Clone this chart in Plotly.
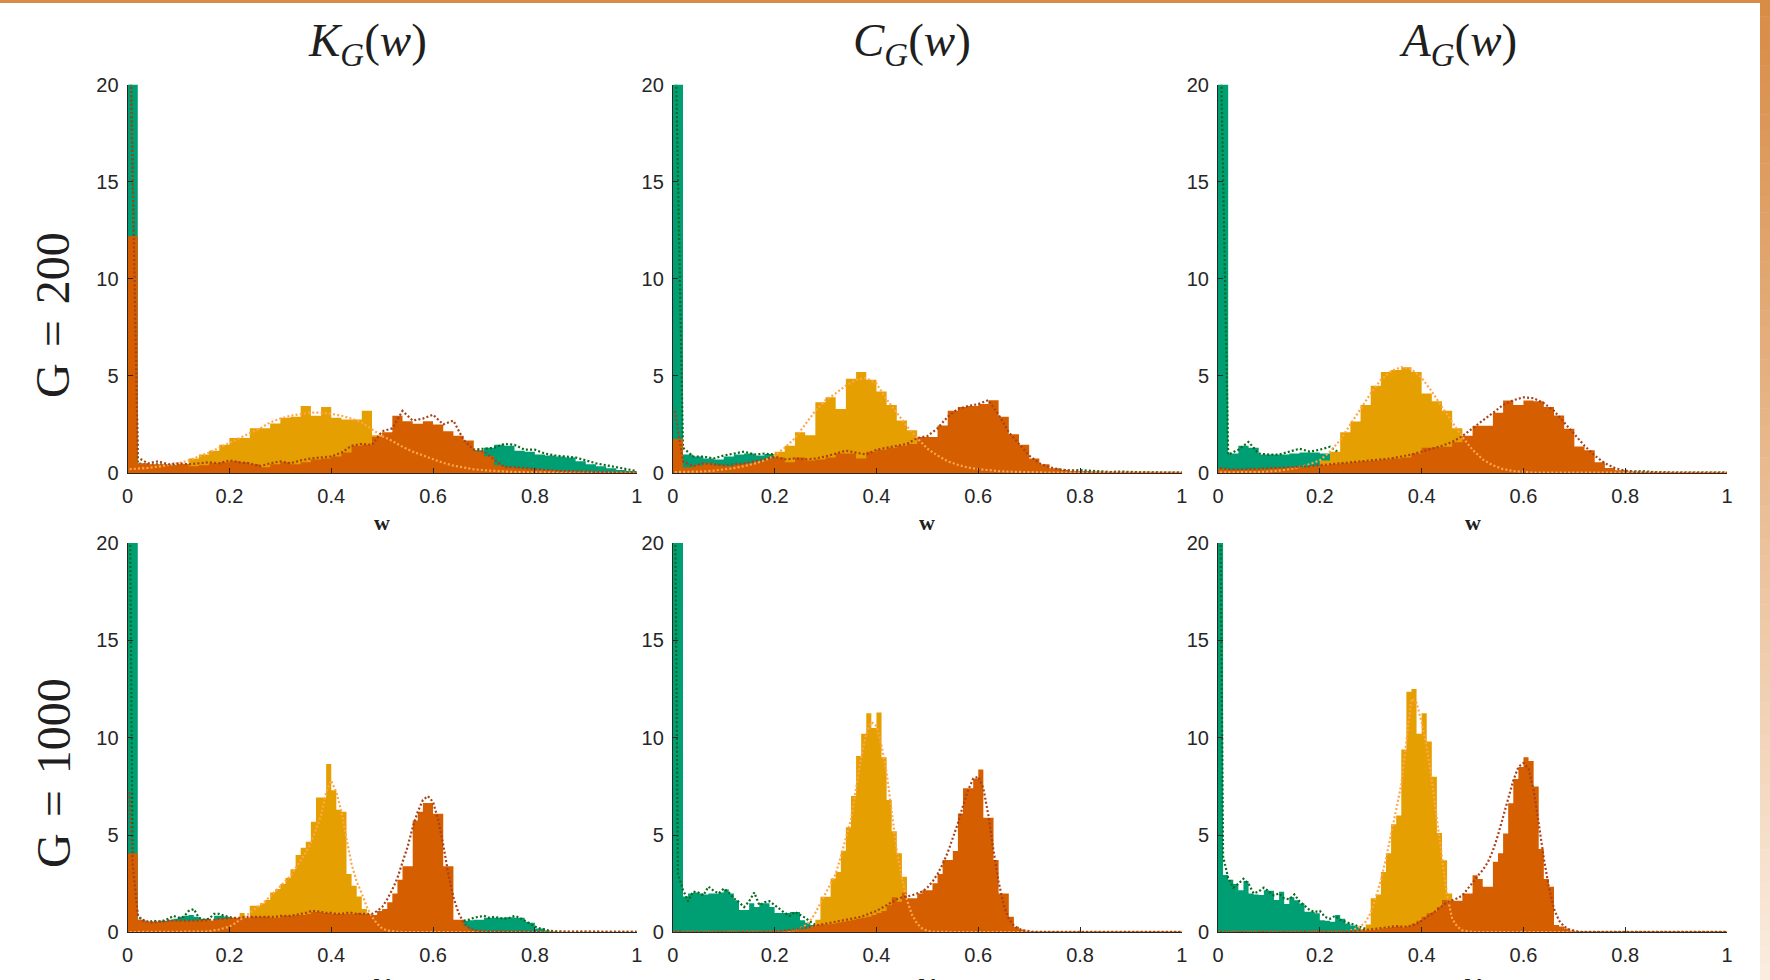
import plotly.graph_objects as go

W, H = 1770, 980

# ---------------- data ----------------
COL_TITLES = ["<i>K</i><sub><i>G</i></sub>(<i>w</i>)",
              "<i>C</i><sub><i>G</i></sub>(<i>w</i>)",
              "<i>A</i><sub><i>G</i></sub>(<i>w</i>)"]
ROW_TITLES = ["G\u2004=\u2004200", "G\u2004=\u20041000"]
X_TICKS = [0, 0.2, 0.4, 0.6, 0.8, 1]
Y_TICKS = [0, 5, 10, 15, 20]

BIN_TOP = 0.02   # histogram bin width, G = 200
BIN_BOT = 0.01   # histogram bin width, G = 1000
LINE_X_TOP = [0.004] + [round(BIN_TOP * k, 2) for k in range(1, 51)]
LINE_X_BOT = [0.004] + [round(BIN_BOT * k, 2) for k in range(1, 101)]

# ---- K, G=200 ----
TL_GREEN = [25, 0.45, 0.4, 0.4, 0.38, 0.4, 0.33, 0.38, 0.45, 0.5,
            0.55, 0.5, 0.42, 0.28, 0.42, 0.5, 0.42, 0.5, 0.65, 0.7,
            0.8, 0.9, 1.0, 1.0, 1.05, 1.05, 1.1, 1.1, 1.1, 1.1,
            1.1, 1.1, 1.1, 1.15, 1.17, 1.3, 1.45, 1.4, 1.15, 1.1,
            0.95, 0.9, 0.85, 0.8, 0.6, 0.45, 0.35, 0.25, 0.15, 0.1]
TL_YELLOW = [0.05, 0.05, 0.1, 0.15, 0.25, 0.48, 0.75, 0.95, 1.15, 1.45,
             1.8, 1.8, 2.3, 2.3, 2.55, 2.85, 2.9, 3.45, 2.95, 3.4,
             2.85, 2.75, 2.75, 3.2, 1.95, 1.6, 1.2, 1.0, 0.8, 0.6,
             0.45, 0.35, 0.25, 0.15, 0.1, 0.07, 0.05, 0.03, 0.02, 0.02,
             0.02, 0.02, 0.02, 0.02, 0.02, 0.02, 0.02, 0.02, 0.02, 0.02]
TL_ORANGE = [12.2, 0.5, 0.45, 0.45, 0.4, 0.45, 0.35, 0.4, 0.5, 0.55,
             0.6, 0.55, 0.45, 0.3, 0.45, 0.55, 0.45, 0.55, 0.7, 0.75,
             0.85, 1.05, 1.4, 1.46, 1.86, 2.1, 2.95, 2.66, 2.54, 2.66,
             2.5, 2.15, 1.92, 1.68, 1.12, 0.86, 0.4, 0.3, 0.25, 0.22,
             0.18, 0.15, 0.12, 0.1, 0.08, 0.06, 0.05, 0.04, 0.03, 0.03]
TL_GREEN_FIT = [24, 0.5, 0.42, 0.45, 0.4, 0.42, 0.38, 0.4, 0.45, 0.5,
                0.55, 0.52, 0.45, 0.35, 0.4, 0.5, 0.45, 0.5, 0.6, 0.7,
                0.75, 0.85, 0.95, 1.0, 1.05, 1.05, 1.1, 1.1, 1.1, 1.1,
                1.1, 1.1, 1.1, 1.1, 1.2, 1.25, 1.3, 1.5, 1.45, 1.2,
                1.2, 1.0, 0.9, 0.85, 0.8, 0.65, 0.5, 0.4, 0.3, 0.2,
                0.1]
TL_YELLOW_FIT = [0.2, 0.22, 0.26, 0.32, 0.4, 0.5, 0.65, 0.85, 1.05, 1.3,
                 1.55, 1.8, 2.05, 2.3, 2.6, 2.8, 2.95, 3.05, 3.12, 3.1,
                 3.05, 2.95, 2.8, 2.6, 2.25, 1.9, 1.65, 1.35, 1.1, 0.9,
                 0.7, 0.52, 0.38, 0.27, 0.19, 0.14, 0.1, 0.07, 0.05, 0.04,
                 0.03, 0.02, 0.02, 0.02, 0.02, 0.02, 0.02, 0.02, 0.02, 0.02,
                 0.02]
TL_ORANGE_FIT = [24, 0.8, 0.5, 0.6, 0.45, 0.5, 0.45, 0.5, 0.55, 0.5,
                 0.65, 0.55, 0.5, 0.35, 0.5, 0.6, 0.5, 0.65, 0.75, 0.8,
                 0.85, 1.05, 1.4, 1.5, 1.45, 2.15, 2.3, 3.2, 2.7, 2.8,
                 3.0, 2.5, 2.7, 1.7, 1.2, 1.1, 0.7, 0.3, 0.3, 0.25,
                 0.2, 0.15, 0.12, 0.1, 0.08, 0.06, 0.05, 0.04, 0.03, 0.03,
                 0.03]

# ---- C, G=200 ----
TM_GREEN = [25, 0.95, 0.85, 0.75, 0.7, 0.85, 0.95, 1.0, 0.9, 0.98,
            0.9, 0.8, 0.75, 0.7, 0.65, 0.6, 0.55, 0.5, 0.45, 0.4,
            0.35, 0.3, 0.3, 0.25, 0.25, 0.2, 0.2, 0.2, 0.15, 0.15,
            0.15, 0.12, 0.12, 0.12, 0.1, 0.1, 0.1, 0.1, 0.12, 0.1,
            0.1, 0.08, 0.05, 0.04, 0.04, 0.03, 0.03, 0.02, 0.02, 0.02]
TM_YELLOW = [0.05, 0.05, 0.05, 0.05, 0.1, 0.15, 0.2, 0.3, 0.45, 0.65,
             1.1, 1.4, 2.1, 1.95, 3.64, 3.9, 3.3, 4.85, 5.2, 4.8,
             4.2, 3.5, 2.7, 2.2, 1.6, 1.0, 0.6, 0.35, 0.2, 0.1,
             0.05, 0.02, 0.02, 0.02, 0.02, 0.02, 0.02, 0.02, 0.02, 0.02,
             0.02, 0.02, 0.02, 0.02, 0.02, 0.02, 0.02, 0.02, 0.02, 0.02]
TM_ORANGE = [1.75, 0.3, 0.4, 0.5, 0.4, 0.35, 0.45, 0.5, 0.6, 0.75,
             0.8, 0.55, 0.8, 0.65, 0.7, 0.8, 1.0, 1.0, 0.75, 1.1,
             1.2, 1.3, 1.4, 1.5, 1.85, 1.85, 2.45, 3.2, 3.4, 3.45,
             3.55, 3.75, 2.9, 2.0, 1.45, 0.75, 0.45, 0.25, 0.15, 0.1,
             0.06, 0.05, 0.04, 0.03, 0.02, 0.02, 0.02, 0.02, 0.02, 0.02]
TM_GREEN_FIT = [24, 1.3, 0.85, 0.85, 0.75, 0.9, 1.0, 1.1, 0.95, 1.0,
                0.95, 0.8, 0.75, 0.7, 0.65, 0.6, 0.55, 0.5, 0.45, 0.4,
                0.35, 0.3, 0.3, 0.25, 0.25, 0.2, 0.2, 0.2, 0.15, 0.15,
                0.15, 0.12, 0.12, 0.12, 0.12, 0.12, 0.12, 0.12, 0.18, 0.12,
                0.15, 0.12, 0.06, 0.05, 0.08, 0.04, 0.03, 0.03, 0.02, 0.02,
                0.02]
TM_YELLOW_FIT = [0.05, 0.05, 0.06, 0.08, 0.12, 0.17, 0.25, 0.35, 0.48, 0.65,
                 0.9, 1.3, 1.8, 2.5, 3.2, 3.75, 4.1, 4.5, 4.8, 4.9,
                 4.6, 3.8, 3.1, 2.4, 1.8, 1.25, 0.9, 0.6, 0.42, 0.28,
                 0.2, 0.14, 0.1, 0.07, 0.05, 0.04, 0.03, 0.02, 0.02, 0.02,
                 0.02, 0.02, 0.02, 0.02, 0.02, 0.02, 0.02, 0.02, 0.02, 0.02,
                 0.02]
TM_ORANGE_FIT = [3.2, 0.6, 0.35, 0.5, 0.45, 0.4, 0.45, 0.5, 0.6, 0.7,
                 0.85, 0.7, 0.75, 0.7, 0.75, 0.85, 1.0, 1.15, 1.05, 0.95,
                 1.2, 1.3, 1.4, 1.5, 1.8, 1.9, 2.3, 2.9, 3.3, 3.45,
                 3.55, 3.75, 3.0, 2.1, 1.5, 0.9, 0.5, 0.3, 0.18, 0.12,
                 0.08, 0.06, 0.05, 0.04, 0.03, 0.02, 0.02, 0.02, 0.02, 0.02,
                 0.02]

# ---- A, G=200 ----
TR_GREEN = [25, 1.0, 1.4, 1.3, 0.95, 0.95, 0.95, 1.0, 1.05, 1.05,
            1.0, 0.95, 0.7, 0.6, 0.5, 0.45, 0.4, 0.35, 0.3, 0.25,
            0.2, 0.2, 0.15, 0.15, 0.1, 0.1, 0.05, 0.05, 0.05, 0.05,
            0.05, 0.05, 0.05, 0.05, 0.05, 0.05, 0.05, 0.05, 0.05, 0.05,
            0.05, 0.05, 0.05, 0.02, 0.02, 0.02, 0.02, 0.02, 0.02, 0.02]
TR_YELLOW = [0.03, 0.03, 0.03, 0.03, 0.04, 0.05, 0.05, 0.1, 0.2, 0.35,
             0.65, 1.1, 2.1, 2.65, 3.5, 4.5, 5.2, 5.3, 5.45, 5.2,
             4.1, 3.7, 3.2, 2.3, 1.9, 1.3, 0.7, 0.3, 0.12, 0.05,
             0.02, 0.02, 0.02, 0.02, 0.02, 0.02, 0.02, 0.02, 0.02, 0.02,
             0.02, 0.02, 0.02, 0.02, 0.02, 0.02, 0.02, 0.02, 0.02, 0.02]
TR_ORANGE = [0.2, 0.15, 0.15, 0.2, 0.2, 0.25, 0.25, 0.3, 0.3, 0.35,
             0.4, 0.45, 0.5, 0.55, 0.6, 0.65, 0.7, 0.75, 0.8, 1.0,
             1.3, 1.32, 1.35, 1.58, 1.92, 2.44, 2.44, 3.1, 3.73, 3.5,
             3.73, 3.7, 3.4, 2.96, 2.28, 1.37, 1.17, 0.55, 0.26, 0.14,
             0.08, 0.06, 0.04, 0.02, 0.02, 0.02, 0.02, 0.02, 0.02, 0.02]
TR_GREEN_FIT = [24, 0.95, 1.2, 1.6, 1.0, 0.95, 0.95, 1.1, 1.25, 1.1,
                1.2, 1.35, 1.0, 0.7, 0.55, 0.45, 0.4, 0.35, 0.3, 0.25,
                0.2, 0.2, 0.15, 0.15, 0.12, 0.1, 0.08, 0.06, 0.06, 0.06,
                0.06, 0.06, 0.06, 0.06, 0.06, 0.06, 0.06, 0.06, 0.06, 0.06,
                0.06, 0.06, 0.08, 0.04, 0.02, 0.02, 0.02, 0.02, 0.02, 0.02,
                0.02]
TR_YELLOW_FIT = [0.03, 0.03, 0.03, 0.04, 0.05, 0.08, 0.12, 0.2, 0.3, 0.45,
                 0.65, 1.1, 1.7, 2.5, 3.3, 4.1, 4.8, 5.25, 5.45, 5.35,
                 4.9, 4.2, 3.4, 2.6, 1.85, 1.2, 0.7, 0.4, 0.2, 0.1,
                 0.05, 0.02, 0.02, 0.02, 0.02, 0.02, 0.02, 0.02, 0.02, 0.02,
                 0.02, 0.02, 0.02, 0.02, 0.02, 0.02, 0.02, 0.02, 0.02, 0.02,
                 0.02]
TR_ORANGE_FIT = [0.25, 0.2, 0.2, 0.2, 0.22, 0.25, 0.27, 0.3, 0.32, 0.35,
                 0.4, 0.45, 0.5, 0.55, 0.6, 0.65, 0.7, 0.75, 0.85, 0.95,
                 1.1, 1.25, 1.4, 1.6, 1.9, 2.3, 2.7, 3.1, 3.5, 3.75,
                 3.9, 3.85, 3.6, 3.2, 2.6, 2.0, 1.4, 0.9, 0.5, 0.25,
                 0.12, 0.06, 0.04, 0.03, 0.02, 0.02, 0.02, 0.02, 0.02, 0.02,
                 0.02]

# ---- K, G=1000 ----
BL_GREEN = [25, 25, 0.65, 0.6, 0.55, 0.55, 0.6, 0.6, 0.65, 0.7,
            0.8, 0.85, 0.9, 0.8, 0.7, 0.7, 0.6, 0.85, 0.85, 0.8,
            0.75, 0.7, 0.65, 0.65, 0.6, 0.6, 0.6, 0.55, 0.55, 0.5,
            0.5, 0.5, 0.5, 0.5, 0.5, 0.5, 0.5, 0.5, 0.5, 0.5,
            0.5, 0.5, 0.5, 0.5, 0.5, 0.5, 0.5, 0.5, 0.5, 0.5,
            0.5, 0.5, 0.5, 0.5, 0.5, 0.5, 0.5, 0.5, 0.5, 0.5,
            0.5, 0.5, 0.5, 0.5, 0.5, 0.55, 0.6, 0.63, 0.65, 0.65,
            0.75, 0.75, 0.75, 0.75, 0.78, 0.78, 0.75, 0.75, 0.55, 0.5,
            0.2, 0.2, 0.1, 0.05, 0.02, 0.02, 0.02, 0.02, 0.02, 0.02,
            0.02, 0.02, 0.02, 0.02, 0.02, 0.02, 0.02, 0.02, 0.02, 0.02]
BL_YELLOW = [0.1, 0.1, 0.02, 0.02, 0.02, 0.02, 0.02, 0.02, 0.02, 0.02,
             0.02, 0.02, 0.02, 0.02, 0.02, 0.05, 0.1, 0.15, 0.2, 0.3,
             0.45, 0.6, 1.0, 0.65, 1.37, 1.37, 1.5, 1.66, 2.05, 2.23,
             2.48, 2.8, 3.24, 3.97, 4.35, 4.66, 5.68, 6.93, 6.93, 8.65,
             7.3, 6.3, 6.2, 3.0, 2.4, 1.85, 1.2, 0.7, 0.4, 0.2,
             0.1, 0.05, 0.02, 0.02, 0.02, 0.02, 0.02, 0.02, 0.02, 0.02,
             0.02, 0.02, 0.02, 0.02, 0.02, 0.02, 0.02, 0.02, 0.02, 0.02,
             0.02, 0.02, 0.02, 0.02, 0.02, 0.02, 0.02, 0.02, 0.02, 0.02,
             0.02, 0.02, 0.02, 0.02, 0.02, 0.02, 0.02, 0.02, 0.02, 0.02,
             0.02, 0.02, 0.02, 0.02, 0.02, 0.02, 0.02, 0.02, 0.02, 0.02]
BL_ORANGE = [4.05, 4.05, 0.65, 0.6, 0.55, 0.55, 0.55, 0.55, 0.6, 0.6,
             0.6, 0.6, 0.6, 0.6, 0.65, 0.65, 0.6, 0.65, 0.7, 0.7,
             0.75, 0.75, 0.75, 0.75, 0.8, 0.8, 0.8, 0.8, 0.75, 0.75,
             0.85, 0.85, 0.85, 0.9, 0.9, 0.95, 1.05, 1.05, 1.0, 1.0,
             0.95, 0.95, 0.95, 0.95, 0.95, 1.0, 0.95, 0.95, 0.9, 1.1,
             1.2, 1.55, 2.0, 2.7, 3.4, 3.4, 5.75, 6.2, 6.65, 6.65,
             6.1, 6.1, 3.4, 3.4, 0.65, 0.65, 0.3, 0.15, 0.1, 0.08,
             0.05, 0.05, 0.05, 0.05, 0.05, 0.05, 0.05, 0.05, 0.05, 0.05,
             0.02, 0.02, 0.02, 0.02, 0.02, 0.02, 0.02, 0.02, 0.02, 0.02,
             0.02, 0.02, 0.02, 0.02, 0.02, 0.02, 0.02, 0.02, 0.02, 0.02]
BL_GREEN_FIT = [24,
                3.0, 0.8, 0.65, 0.5, 0.6, 0.55, 0.6, 0.7, 0.85, 0.75,
                0.8, 1.1, 1.2, 0.75, 0.65, 0.7, 0.95, 0.95, 0.85, 0.8,
                0.7, 0.6, 0.6, 0.6, 0.6, 0.6, 0.6, 0.6, 0.6, 0.6,
                0.6, 0.6, 0.6, 0.6, 0.6, 0.6, 0.6, 0.6, 0.6, 0.6,
                0.6, 0.6, 0.6, 0.6, 0.6, 0.6, 0.6, 0.6, 0.6, 0.6,
                0.6, 0.6, 0.6, 0.6, 0.6, 0.6, 0.6, 0.6, 0.6, 0.6,
                0.6, 0.6, 0.6, 0.5, 0.55, 0.6, 0.65, 0.75, 0.8, 0.85,
                0.75, 0.8, 0.75, 0.7, 0.75, 0.85, 0.75, 0.6, 0.45, 0.3,
                0.2, 0.12, 0.08, 0.05, 0.03, 0.03, 0.03, 0.03, 0.03, 0.03,
                0.03, 0.03, 0.03, 0.03, 0.03, 0.03, 0.03, 0.03, 0.03, 0.03]
BL_YELLOW_FIT = [0.02,
                 0.02, 0.02, 0.02, 0.02, 0.02, 0.02, 0.02, 0.02, 0.02, 0.02,
                 0.02, 0.02, 0.03, 0.03, 0.04, 0.06, 0.1, 0.15, 0.22, 0.3,
                 0.45, 0.62, 0.8, 1.0, 1.2, 1.4, 1.6, 1.85, 2.1, 2.35,
                 2.6, 2.9, 3.3, 3.7, 4.1, 4.6, 5.3, 6.0, 7.2, 7.8,
                 7.2, 6.2, 4.8, 3.5, 2.6, 2.0, 1.3, 0.8, 0.45, 0.2,
                 0.1, 0.05, 0.03, 0.02, 0.02, 0.02, 0.02, 0.02, 0.02, 0.02,
                 0.02, 0.02, 0.02, 0.02, 0.02, 0.02, 0.02, 0.02, 0.02, 0.02,
                 0.02, 0.02, 0.02, 0.02, 0.02, 0.02, 0.02, 0.02, 0.02, 0.02,
                 0.02, 0.02, 0.02, 0.02, 0.02, 0.02, 0.02, 0.02, 0.02, 0.02,
                 0.02, 0.02, 0.02, 0.02, 0.02, 0.02, 0.02, 0.02, 0.02, 0.02]
BL_ORANGE_FIT = [7.2,
                 3.5, 0.9, 0.6, 0.55, 0.5, 0.55, 0.55, 0.6, 0.6, 0.6,
                 0.6, 0.6, 0.6, 0.6, 0.6, 0.65, 0.65, 0.7, 0.7, 0.75,
                 0.75, 0.75, 0.8, 0.8, 0.8, 0.8, 0.8, 0.8, 0.8, 0.85,
                 0.85, 0.85, 0.9, 0.95, 1.0, 1.1, 1.1, 1.05, 1.0, 1.0,
                 0.95, 0.95, 1.0, 1.0, 0.95, 0.95, 0.95, 0.95, 1.1, 1.3,
                 1.7, 2.2, 2.8, 3.6, 4.4, 5.4, 6.2, 6.8, 7.0, 6.7,
                 5.8, 4.5, 3.0, 1.8, 1.0, 0.5, 0.25, 0.12, 0.08, 0.05,
                 0.05, 0.05, 0.05, 0.05, 0.05, 0.05, 0.05, 0.05, 0.05, 0.05,
                 0.03, 0.03, 0.03, 0.03, 0.03, 0.03, 0.03, 0.03, 0.03, 0.03,
                 0.03, 0.03, 0.03, 0.03, 0.03, 0.03, 0.03, 0.03, 0.03, 0.03]

# ---- C, G=1000 ----
BM_GREEN = [25, 25, 1.85, 2.0, 2.05, 2.0, 1.95, 2.0, 2.0, 2.05,
            2.2, 2.0, 1.65, 1.15, 1.15, 1.5, 1.3, 1.5, 1.5, 1.3,
            1.0, 1.0, 1.0, 1.05, 1.05, 0.63, 0.5, 0.38, 0.25, 0.15,
            0.1, 0.06, 0.04, 0.02, 0.02, 0.02, 0.02, 0.02, 0.02, 0.02,
            0.02, 0.02, 0.02, 0.02, 0.02, 0.02, 0.02, 0.02, 0.02, 0.02,
            0.02, 0.02, 0.02, 0.02, 0.02, 0.02, 0.02, 0.02, 0.02, 0.02,
            0.02, 0.02, 0.02, 0.02, 0.02, 0.02, 0.02, 0.02, 0.02, 0.02,
            0.02, 0.02, 0.02, 0.02, 0.02, 0.02, 0.02, 0.02, 0.02, 0.02,
            0.02, 0.02, 0.02, 0.02, 0.02, 0.02, 0.02, 0.02, 0.02, 0.02,
            0.02, 0.02, 0.02, 0.02, 0.02, 0.02, 0.02, 0.02, 0.02, 0.02]
BM_YELLOW = [0.02, 0.02, 0.02, 0.02, 0.02, 0.02, 0.02, 0.02, 0.02, 0.02,
             0.02, 0.02, 0.02, 0.02, 0.02, 0.02, 0.02, 0.02, 0.02, 0.02,
             0.02, 0.02, 0.02, 0.02, 0.02, 0.05, 0.1, 0.3, 0.65, 1.83,
             1.83, 2.77, 3.1, 4.2, 5.4, 7.0, 9.06, 10.2, 11.25, 10.5,
             11.3, 9.0, 6.8, 5.2, 4.06, 2.86, 1.6, 0.9, 0.45, 0.2,
             0.08, 0.03, 0.02, 0.02, 0.02, 0.02, 0.02, 0.02, 0.02, 0.02,
             0.02, 0.02, 0.02, 0.02, 0.02, 0.02, 0.02, 0.02, 0.02, 0.02,
             0.02, 0.02, 0.02, 0.02, 0.02, 0.02, 0.02, 0.02, 0.02, 0.02,
             0.02, 0.02, 0.02, 0.02, 0.02, 0.02, 0.02, 0.02, 0.02, 0.02,
             0.02, 0.02, 0.02, 0.02, 0.02, 0.02, 0.02, 0.02, 0.02, 0.02]
BM_ORANGE = [0.05, 0.05, 0.03, 0.03, 0.03, 0.03, 0.03, 0.03, 0.03, 0.03,
             0.03, 0.03, 0.03, 0.03, 0.03, 0.05, 0.05, 0.05, 0.05, 0.05,
             0.06, 0.07, 0.08, 0.1, 0.12, 0.15, 0.2, 0.28, 0.38, 0.4,
             0.42, 0.45, 0.5, 0.55, 0.6, 0.65, 0.7, 0.75, 0.8, 0.9,
             1.0, 1.1, 1.4, 1.8, 1.58, 2.04, 1.75, 1.75, 2.0, 2.17,
             2.17, 2.52, 3.0, 3.72, 3.72, 4.18, 6.11, 7.4, 7.4, 7.9,
             8.37, 5.89, 5.89, 3.72, 2.0, 2.0, 0.8, 0.29, 0.15, 0.08,
             0.02, 0.02, 0.02, 0.02, 0.02, 0.02, 0.02, 0.02, 0.02, 0.02,
             0.02, 0.02, 0.02, 0.02, 0.02, 0.02, 0.02, 0.02, 0.02, 0.02,
             0.02, 0.02, 0.02, 0.02, 0.02, 0.02, 0.02, 0.02, 0.02, 0.02]
BM_GREEN_FIT = [24,
                3.0, 2.2, 1.6, 2.1, 2.05, 1.9, 2.35, 2.15, 2.0, 2.25,
                2.05, 1.75, 1.55, 1.3, 1.6, 2.05, 1.4, 1.55, 1.6, 1.4,
                1.2, 1.0, 0.85, 1.05, 0.9, 0.75, 0.55, 0.4, 0.25, 0.15,
                0.1, 0.06, 0.04, 0.02, 0.02, 0.02, 0.02, 0.02, 0.02, 0.02,
                0.02, 0.02, 0.02, 0.02, 0.02, 0.02, 0.02, 0.02, 0.02, 0.02,
                0.02, 0.02, 0.02, 0.02, 0.02, 0.02, 0.02, 0.02, 0.02, 0.02,
                0.02, 0.02, 0.02, 0.02, 0.02, 0.02, 0.02, 0.02, 0.02, 0.02,
                0.02, 0.02, 0.02, 0.02, 0.02, 0.02, 0.02, 0.02, 0.02, 0.02,
                0.02, 0.02, 0.02, 0.02, 0.02, 0.02, 0.02, 0.02, 0.02, 0.02,
                0.02, 0.02, 0.02, 0.02, 0.02, 0.02, 0.02, 0.02, 0.02, 0.02]
BM_YELLOW_FIT = [0.02,
                 0.02, 0.02, 0.02, 0.02, 0.02, 0.02, 0.02, 0.02, 0.02, 0.02,
                 0.02, 0.02, 0.02, 0.02, 0.02, 0.02, 0.02, 0.02, 0.02, 0.02,
                 0.03, 0.05, 0.08, 0.12, 0.2, 0.35, 0.6, 1.0, 1.5, 2.0,
                 2.5, 3.0, 3.9, 4.8, 5.8, 7.4, 9.0, 10.2, 10.8, 10.6,
                 9.6, 8.2, 6.2, 4.2, 2.8, 1.65, 0.9, 0.45, 0.2, 0.08,
                 0.03, 0.02, 0.02, 0.02, 0.02, 0.02, 0.02, 0.02, 0.02, 0.02,
                 0.02, 0.02, 0.02, 0.02, 0.02, 0.02, 0.02, 0.02, 0.02, 0.02,
                 0.02, 0.02, 0.02, 0.02, 0.02, 0.02, 0.02, 0.02, 0.02, 0.02,
                 0.02, 0.02, 0.02, 0.02, 0.02, 0.02, 0.02, 0.02, 0.02, 0.02,
                 0.02, 0.02, 0.02, 0.02, 0.02, 0.02, 0.02, 0.02, 0.02, 0.02]
BM_ORANGE_FIT = [0.05,
                 0.03, 0.03, 0.03, 0.03, 0.03, 0.03, 0.03, 0.03, 0.03, 0.03,
                 0.03, 0.03, 0.03, 0.03, 0.05, 0.05, 0.05, 0.05, 0.05, 0.05,
                 0.07, 0.09, 0.12, 0.15, 0.2, 0.25, 0.3, 0.35, 0.4, 0.45,
                 0.5, 0.55, 0.6, 0.65, 0.7, 0.75, 0.8, 0.9, 1.0, 1.1,
                 1.25, 1.4, 1.55, 1.7, 1.8, 1.85, 1.9, 2.0, 2.1, 2.3,
                 2.6, 3.0, 3.5, 4.1, 4.8, 5.6, 6.5, 7.3, 7.9, 8.0,
                 7.4, 6.0, 4.2, 2.6, 1.4, 0.7, 0.35, 0.18, 0.1, 0.06,
                 0.03, 0.03, 0.03, 0.03, 0.03, 0.03, 0.03, 0.03, 0.03, 0.03,
                 0.03, 0.03, 0.03, 0.03, 0.03, 0.03, 0.03, 0.03, 0.03, 0.03,
                 0.03, 0.03, 0.03, 0.03, 0.03, 0.03, 0.03, 0.03, 0.03, 0.03]

# ---- A, G=1000 ----
BR_GREEN = [25, 2.95, 2.7, 2.48, 2.17, 2.64, 2.0, 1.95, 1.92, 2.17,
            2.14, 1.66, 2.09, 1.46, 1.8, 1.65, 1.49, 1.06, 1.06, 0.98,
            0.63, 0.6, 0.55, 0.89, 0.7, 0.46, 0.35, 0.29, 0.15, 0.12,
            0.06, 0.04, 0.02, 0.02, 0.02, 0.02, 0.02, 0.02, 0.02, 0.02,
            0.02, 0.02, 0.02, 0.02, 0.02, 0.02, 0.02, 0.02, 0.02, 0.02,
            0.02, 0.02, 0.02, 0.02, 0.02, 0.02, 0.02, 0.02, 0.02, 0.02,
            0.02, 0.02, 0.02, 0.02, 0.02, 0.02, 0.02, 0.02, 0.02, 0.02,
            0.02, 0.02, 0.02, 0.02, 0.02, 0.02, 0.02, 0.02, 0.02, 0.02,
            0.02, 0.02, 0.02, 0.02, 0.02, 0.02, 0.02, 0.02, 0.02, 0.02,
            0.02, 0.02, 0.02, 0.02, 0.02, 0.02, 0.02, 0.02, 0.02, 0.02]
BR_YELLOW = [0.02, 0.02, 0.02, 0.02, 0.02, 0.02, 0.02, 0.02, 0.02, 0.02,
             0.02, 0.02, 0.02, 0.02, 0.02, 0.02, 0.02, 0.02, 0.02, 0.02,
             0.02, 0.02, 0.02, 0.02, 0.02, 0.02, 0.03, 0.1, 0.15, 0.4,
             1.75, 1.95, 3.1, 4.06, 5.55, 6.0, 9.4, 12.36, 12.5, 10.2,
             11.25, 9.8, 8.0, 5.1, 3.7, 2.0, 1.2, 0.5, 0.2, 0.08,
             0.04, 0.02, 0.02, 0.02, 0.02, 0.02, 0.02, 0.02, 0.02, 0.02,
             0.02, 0.02, 0.02, 0.02, 0.02, 0.02, 0.02, 0.02, 0.02, 0.02,
             0.02, 0.02, 0.02, 0.02, 0.02, 0.02, 0.02, 0.02, 0.02, 0.02,
             0.02, 0.02, 0.02, 0.02, 0.02, 0.02, 0.02, 0.02, 0.02, 0.02,
             0.02, 0.02, 0.02, 0.02, 0.02, 0.02, 0.02, 0.02, 0.02, 0.02]
BR_ORANGE = [0.05, 0.03, 0.03, 0.03, 0.03, 0.03, 0.03, 0.03, 0.03, 0.03,
             0.03, 0.03, 0.03, 0.03, 0.03, 0.03, 0.03, 0.03, 0.03, 0.03,
             0.04, 0.04, 0.04, 0.04, 0.04, 0.04, 0.05, 0.06, 0.08, 0.1,
             0.12, 0.15, 0.2, 0.22, 0.28, 0.3, 0.25, 0.3, 0.45, 0.6,
             0.8, 0.98, 1.05, 1.3, 1.66, 1.63, 1.63, 1.63, 2.0, 2.0,
             2.94, 2.74, 2.35, 2.35, 3.63, 4.06, 5.08, 6.63, 7.88, 8.5,
             8.99, 8.8, 7.5, 4.28, 2.74, 2.35, 0.38, 0.3, 0.2, 0.1,
             0.05, 0.02, 0.02, 0.02, 0.02, 0.02, 0.02, 0.02, 0.02, 0.02,
             0.02, 0.02, 0.02, 0.02, 0.02, 0.02, 0.02, 0.02, 0.02, 0.02,
             0.02, 0.02, 0.02, 0.02, 0.02, 0.02, 0.02, 0.02, 0.02, 0.02]
BR_GREEN_FIT = [24,
                3.9, 2.8, 2.3, 2.5, 2.75, 2.5, 2.0, 2.1, 2.3, 2.1,
                1.9, 2.0, 1.75, 1.7, 1.95, 1.6, 1.35, 1.15, 1.05, 1.1,
                0.8, 0.7, 0.85, 0.65, 0.55, 0.45, 0.35, 0.25, 0.18, 0.12,
                0.08, 0.05, 0.04, 0.02, 0.02, 0.02, 0.02, 0.02, 0.02, 0.02,
                0.02, 0.02, 0.02, 0.02, 0.02, 0.02, 0.02, 0.02, 0.02, 0.02,
                0.02, 0.02, 0.02, 0.02, 0.02, 0.02, 0.02, 0.02, 0.02, 0.02,
                0.02, 0.02, 0.02, 0.02, 0.02, 0.02, 0.02, 0.02, 0.02, 0.02,
                0.02, 0.02, 0.02, 0.02, 0.02, 0.02, 0.02, 0.02, 0.02, 0.02,
                0.02, 0.02, 0.02, 0.02, 0.02, 0.02, 0.02, 0.02, 0.02, 0.02,
                0.02, 0.02, 0.02, 0.02, 0.02, 0.02, 0.02, 0.02, 0.02, 0.02]
BR_YELLOW_FIT = [0.02,
                 0.02, 0.02, 0.02, 0.02, 0.02, 0.02, 0.02, 0.02, 0.02, 0.02,
                 0.02, 0.02, 0.02, 0.02, 0.02, 0.02, 0.02, 0.02, 0.02, 0.02,
                 0.02, 0.02, 0.03, 0.04, 0.06, 0.1, 0.18, 0.3, 0.55, 1.0,
                 1.8, 2.7, 3.8, 5.0, 6.3, 7.6, 9.8, 12.0, 11.8, 10.8,
                 9.5, 7.8, 5.8, 3.9, 1.9, 0.7, 0.3, 0.1, 0.05, 0.02,
                 0.02, 0.02, 0.02, 0.02, 0.02, 0.02, 0.02, 0.02, 0.02, 0.02,
                 0.02, 0.02, 0.02, 0.02, 0.02, 0.02, 0.02, 0.02, 0.02, 0.02,
                 0.02, 0.02, 0.02, 0.02, 0.02, 0.02, 0.02, 0.02, 0.02, 0.02,
                 0.02, 0.02, 0.02, 0.02, 0.02, 0.02, 0.02, 0.02, 0.02, 0.02,
                 0.02, 0.02, 0.02, 0.02, 0.02, 0.02, 0.02, 0.02, 0.02, 0.02]
BR_ORANGE_FIT = [0.05,
                 0.03, 0.03, 0.03, 0.03, 0.03, 0.03, 0.03, 0.03, 0.03, 0.03,
                 0.03, 0.03, 0.03, 0.03, 0.03, 0.03, 0.03, 0.03, 0.03, 0.04,
                 0.04, 0.04, 0.04, 0.05, 0.05, 0.06, 0.08, 0.1, 0.12, 0.15,
                 0.18, 0.22, 0.26, 0.3, 0.32, 0.3, 0.3, 0.35, 0.45, 0.6,
                 0.8, 0.95, 1.15, 1.35, 1.55, 1.65, 1.75, 1.9, 2.2, 2.55,
                 2.9, 3.2, 3.6, 4.2, 5.0, 5.9, 6.9, 7.8, 8.5, 8.7,
                 8.4, 7.3, 5.6, 3.8, 2.3, 1.2, 0.6, 0.3, 0.15, 0.08,
                 0.03, 0.03, 0.03, 0.03, 0.03, 0.03, 0.03, 0.03, 0.03, 0.03,
                 0.03, 0.03, 0.03, 0.03, 0.03, 0.03, 0.03, 0.03, 0.03, 0.03,
                 0.03, 0.03, 0.03, 0.03, 0.03, 0.03, 0.03, 0.03, 0.03, 0.03]

# ---------------- styling ----------------
C_GREEN, C_YELLOW, C_ORANGE = "#009E73", "#E69F00", "#D55E00"
C_GREEN_FIT, C_YELLOW_FIT, C_ORANGE_FIT = "#0B6A1E", "#FFA64D", "#A8401A"
AX_COLOR = "#262626"
TEXT_COLOR = "#1F1F1F"

COLS_PX = [(127.6, 636.7), (672.8, 1181.9), (1218.0, 1727.1)]
ROWS_PX = [(84.7, 473.0), (543.0, 932.4)]
ROW_LABEL_Y_PX = [315, 773]

PANELS = [
    (0, 0, TL_GREEN, TL_YELLOW, TL_ORANGE, TL_GREEN_FIT, TL_YELLOW_FIT, TL_ORANGE_FIT, BIN_TOP, LINE_X_TOP),
    (0, 1, TM_GREEN, TM_YELLOW, TM_ORANGE, TM_GREEN_FIT, TM_YELLOW_FIT, TM_ORANGE_FIT, BIN_TOP, LINE_X_TOP),
    (0, 2, TR_GREEN, TR_YELLOW, TR_ORANGE, TR_GREEN_FIT, TR_YELLOW_FIT, TR_ORANGE_FIT, BIN_TOP, LINE_X_TOP),
    (1, 0, BL_GREEN, BL_YELLOW, BL_ORANGE, BL_GREEN_FIT, BL_YELLOW_FIT, BL_ORANGE_FIT, BIN_BOT, LINE_X_BOT),
    (1, 1, BM_GREEN, BM_YELLOW, BM_ORANGE, BM_GREEN_FIT, BM_YELLOW_FIT, BM_ORANGE_FIT, BIN_BOT, LINE_X_BOT),
    (1, 2, BR_GREEN, BR_YELLOW, BR_ORANGE, BR_GREEN_FIT, BR_YELLOW_FIT, BR_ORANGE_FIT, BIN_BOT, LINE_X_BOT),
]


def px_x(p):
    return p / W


def px_y(p):
    return 1 - p / H


def step_xy(heights, bw):
    n = len(heights)
    xs = [round(bw * i, 4) for i in range(n + 1)]
    ys = list(heights) + [heights[-1]]
    return xs, ys


fig = go.Figure()
layout = dict(
    width=W, height=H,
    margin=dict(l=0, r=0, t=0, b=0, pad=0, autoexpand=False),
    paper_bgcolor="white", plot_bgcolor="white",
    showlegend=False,
)

for i, (r, c, g, y, o, gf, yf, of, bw, lx) in enumerate(PANELS):
    n = i + 1
    nb = int(round(1 / bw))
    for name, arr in (("green", g), ("yellow", y), ("orange", o)):
        assert len(arr) == nb, f"panel {n} {name}: {len(arr)} != {nb}"
    for name, arr in (("gfit", gf), ("yfit", yf), ("ofit", of)):
        assert len(arr) == len(lx), f"panel {n} {name}: {len(arr)} != {len(lx)}"
    xa = "x" if n == 1 else f"x{n}"
    ya = "y" if n == 1 else f"y{n}"

    def fill_trace(h, color):
        xs, ys = step_xy(h, bw)
        return go.Scatter(x=xs, y=ys, xaxis=xa, yaxis=ya, mode="lines",
                          line=dict(shape="hv", width=0, color=color),
                          fill="tozeroy", fillcolor=color, hoverinfo="skip")

    def fit_trace(vals, color):
        return go.Scatter(x=lx, y=vals, xaxis=xa, yaxis=ya, mode="lines",
                          line=dict(width=2.2, color=color, dash="2px,2.2px"),
                          hoverinfo="skip")

    fig.add_trace(fill_trace(g, C_GREEN))
    fig.add_trace(fit_trace(gf, C_GREEN_FIT))
    fig.add_trace(fill_trace(y, C_YELLOW))
    fig.add_trace(fill_trace(o, C_ORANGE))
    fig.add_trace(fit_trace(yf, C_YELLOW_FIT))
    fig.add_trace(fit_trace(of, C_ORANGE_FIT))

    x0, x1 = COLS_PX[c]
    yt, yb = ROWS_PX[r]
    kx = "xaxis" if n == 1 else f"xaxis{n}"
    ky = "yaxis" if n == 1 else f"yaxis{n}"
    common = dict(showgrid=False, zeroline=False, showline=True, automargin=False,
                  linecolor=AX_COLOR, linewidth=1, ticks="inside", ticklen=5,
                  tickcolor=AX_COLOR, tickwidth=1,
                  tickfont=dict(family="Liberation Sans, Arial, sans-serif",
                                size=20, color=AX_COLOR),
                  fixedrange=True)
    layout[kx] = dict(common, domain=[px_x(x0), px_x(x1)], range=[0, 1],
                      tickvals=X_TICKS, anchor=ya, ticklabelstandoff=5)
    layout[ky] = dict(common, domain=[px_y(yb), px_y(yt)], range=[0, 20],
                      tickvals=Y_TICKS, anchor=xa, ticklabelstandoff=4)

annotations = []
for c, title in enumerate(COL_TITLES):
    x0, x1 = COLS_PX[c]
    annotations.append(dict(
        x=px_x((x0 + x1) / 2 - 15), y=px_y(44), xref="paper", yref="paper",
        text=title, showarrow=False, xanchor="center", yanchor="middle",
        font=dict(family="Liberation Serif, DejaVu Serif, serif", size=47,
                  color=TEXT_COLOR)))
for r, title in enumerate(ROW_TITLES):
    annotations.append(dict(
        x=px_x(53), y=px_y(ROW_LABEL_Y_PX[r]), xref="paper", yref="paper",
        text=title, showarrow=False, textangle=-90,
        xanchor="center", yanchor="middle",
        font=dict(family="Liberation Serif, DejaVu Serif, serif", size=48,
                  color=TEXT_COLOR)))
for r in range(2):
    yt, yb = ROWS_PX[r]
    for c in range(3):
        x0, x1 = COLS_PX[c]
        annotations.append(dict(
            x=px_x((x0 + x1) / 2), y=px_y(yb + 49), xref="paper", yref="paper",
            text="<b>w</b>", showarrow=False, xanchor="center", yanchor="middle",
            font=dict(family="Liberation Serif, DejaVu Serif, serif", size=22,
                      color=TEXT_COLOR)))
layout["annotations"] = annotations

# decorative frame: top rule and right gradient bar
shapes = [dict(type="rect", xref="paper", yref="paper", x0=0, x1=1,
               y0=px_y(3), y1=1, line=dict(width=0), fillcolor="#D98C45",
               layer="above")]
top_rgb, bot_rgb = (216, 140, 70), (250, 236, 222)
nseg = 60
for k in range(nseg):
    t = k / (nseg - 1)
    col = tuple(int(round(top_rgb[j] + (bot_rgb[j] - top_rgb[j]) * t)) for j in range(3))
    shapes.append(dict(type="rect", xref="paper", yref="paper",
                       x0=px_x(1760), x1=1,
                       y0=px_y(H * (k + 1) / nseg) - 0.0005, y1=px_y(H * k / nseg),
                       line=dict(width=0), fillcolor="rgb(%d,%d,%d)" % col,
                       layer="above"))
layout["shapes"] = shapes

fig.update_layout(**layout)

# the page's default body margin would push the 1770x980 figure off the window
POST = ("document.body.style.margin='0';document.body.style.padding='0';"
        "document.body.style.overflow='hidden';"
        "document.documentElement.style.overflow='hidden';")
fig.write_html("out.html", post_script=POST,
               config={"displayModeBar": False, "staticPlot": True})
